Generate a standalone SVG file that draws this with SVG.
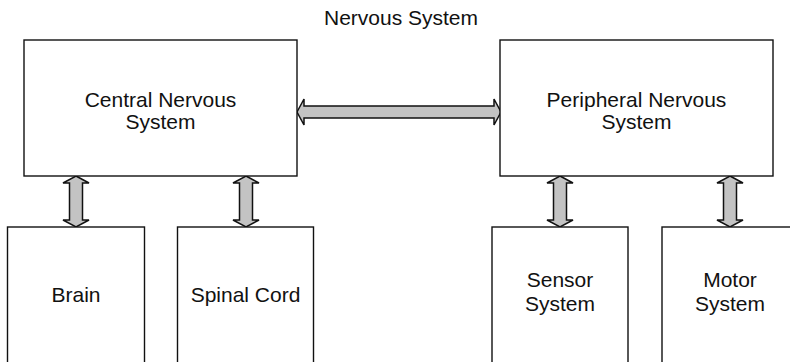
<svg xmlns="http://www.w3.org/2000/svg" width="790" height="362" viewBox="0 0 790 362">
<style>
.box{fill:#fff;stroke:#111;stroke-width:1.4}
.arr{fill:#c3c3c3;stroke:#111;stroke-width:1.5;stroke-linejoin:miter}
text{font-family:"Liberation Sans",Arial,sans-serif;font-size:21px;fill:#111;text-anchor:middle}
</style>
<rect width="790" height="362" fill="#fff"/>
<text id="title" x="401" y="25">Nervous System</text>
<g id="connectors">
<path class="arr" d="M297,112 L304,99 L304,106 L494,106 L494,99 L501,112 L494,125 L494,118 L304,118 L304,125 Z"/>
<path class="arr" d="M76,176 L89,183 L82.5,183 L82.5,220 L89,220 L76,227 L63,220 L69.5,220 L69.5,183 L63,183 Z"/>
<path class="arr" d="M246,176 L259,183 L252.5,183 L252.5,220 L259,220 L246,227 L233,220 L239.5,220 L239.5,183 L233,183 Z"/>
<path class="arr" d="M560,176 L573,183 L566.5,183 L566.5,220 L573,220 L560,227 L547,220 L553.5,220 L553.5,183 L547,183 Z"/>
<path class="arr" d="M730,176 L743,183 L736.5,183 L736.5,220 L743,220 L730,227 L717,220 L723.5,220 L723.5,183 L717,183 Z"/>
</g>
<g id="cns">
<rect class="box" x="24" y="40" width="273" height="136"/>
<text x="160.5" y="107">Central Nervous</text>
<text x="160.5" y="129">System</text>
</g>
<g id="pns">
<rect class="box" x="500" y="40" width="273" height="136"/>
<text x="636.5" y="107">Peripheral Nervous</text>
<text x="636.5" y="129">System</text>
</g>
<g id="brain">
<rect class="box" x="7.5" y="227" width="137" height="150"/>
<text x="76" y="302">Brain</text>
</g>
<g id="spinal">
<rect class="box" x="177.5" y="227" width="136" height="150"/>
<text x="245.5" y="302">Spinal Cord</text>
</g>
<g id="sensor">
<rect class="box" x="492" y="227" width="136" height="150"/>
<text x="560" y="287">Sensor</text>
<text x="560" y="311">System</text>
</g>
<g id="motor">
<rect class="box" x="662" y="227" width="136" height="150"/>
<text x="730" y="287">Motor</text>
<text x="730" y="311">System</text>
</g>
</svg>
